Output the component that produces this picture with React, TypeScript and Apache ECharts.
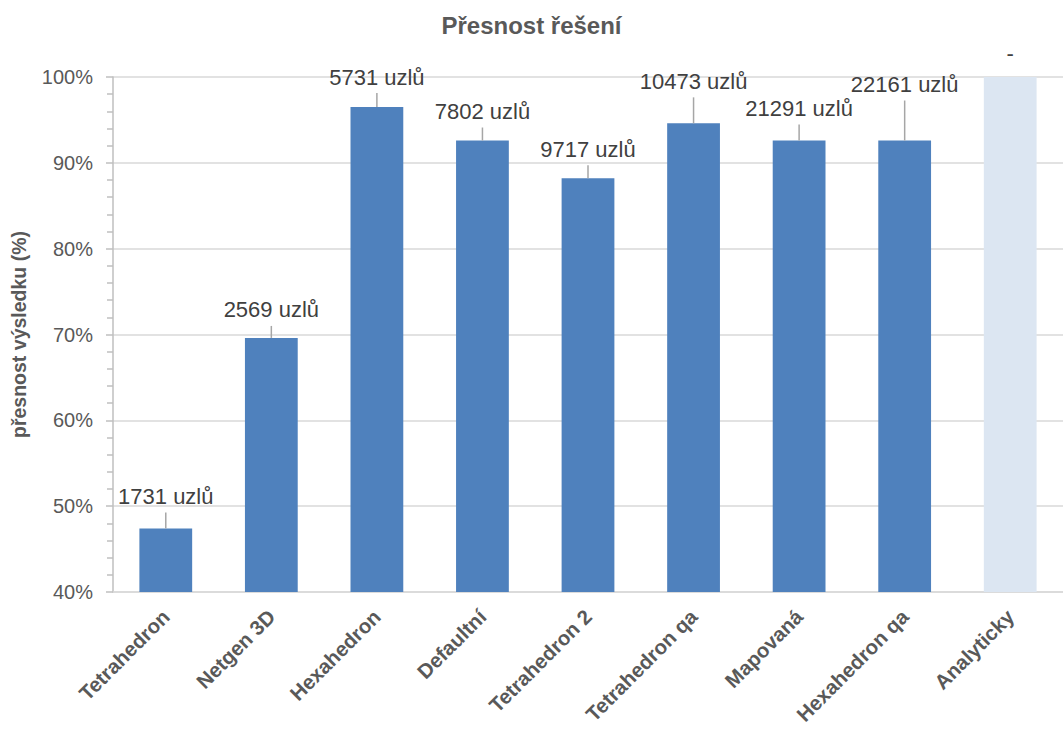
import React, { useEffect, useRef } from "react";
import * as echarts from "echarts";

const categories = [
  "Tetrahedron",
  "Netgen 3D",
  "Hexahedron",
  "Defaultní",
  "Tetrahedron 2",
  "Tetrahedron qa",
  "Mapovaná",
  "Hexahedron qa",
  "Analyticky",
];
const accuracy = [47.4, 69.6, 96.5, 92.6, 88.2, 94.6, 92.6, 92.6, 100];
const nodeLabels = [
  "1731 uzlů",
  "2569 uzlů",
  "5731 uzlů",
  "7802 uzlů",
  "9717 uzlů",
  "10473 uzlů",
  "21291 uzlů",
  "22161 uzlů",
  "-",
];
const yTicks = { min: 40, max: 100, interval: 10 };

// label leader line lengths in pixels (style only)
const leaderLen = [16, 12, 14, 13, 13, 26, 16, 40, 0];

const FONT = "'Liberation Sans', Arial, sans-serif";

export default function App() {
  const ref = useRef<HTMLDivElement>(null);
  useEffect(() => {
    document.body.style.margin = "0";
    const chart = echarts.init(ref.current!, undefined, { renderer: "svg" });
    const option: any = {
      animation: false,
      backgroundColor: "#ffffff",
      textStyle: { fontFamily: FONT },
      title: {
        text: "Přesnost řešení",
        left: "center",
        top: 8,
        textStyle: { fontSize: 24, fontWeight: "bold", color: "#595959", fontFamily: FONT },
      },
      grid: { left: 113, top: 77, width: 966, height: 515 },
      xAxis: {
        type: "category",
        data: categories,
        axisLine: { show: true, lineStyle: { color: "#d9d9d9", width: 1.5 } },
        axisTick: { show: false },
        axisLabel: {
          rotate: 45,
          interval: 0,
          margin: 21,
          fontSize: 20.5,
          fontWeight: "bold",
          color: "#595959",
          fontFamily: FONT,
        },
        splitLine: { show: false },
      },
      yAxis: {
        type: "value",
        min: yTicks.min,
        max: yTicks.max,
        interval: yTicks.interval,
        name: "přesnost výsledku (%)",
        nameLocation: "middle",
        nameGap: 84,
        nameTextStyle: { fontSize: 19.5, fontWeight: "bold", color: "#595959", fontFamily: FONT },
        axisLine: { show: true, lineStyle: { color: "#bfbfbf", width: 1.5 } },
        axisTick: { show: true, inside: false, length: 7, lineStyle: { color: "#bfbfbf", width: 1.5 } },
        minorTick: { show: true, splitNumber: 5, length: 6, lineStyle: { color: "#bfbfbf", width: 1.5 } },
        axisLabel: {
          formatter: "{value}%",
          margin: 20,
          fontSize: 20,
          color: "#595959",
          fontFamily: FONT,
        },
        splitLine: { show: true, lineStyle: { color: "#d9d9d9", width: 1.5 } },
      },
      series: [
        {
          type: "bar",
          barWidth: "50%",
          data: accuracy.map((v, i) => ({
            value: v,
            itemStyle: { color: i === accuracy.length - 1 ? "#dce6f2" : "#4f81bd" },
          })),
          z: 2,
        },
        {
          type: "custom",
          z: 5,
          clip: false,
          data: accuracy.map((v, i) => [i, v]),
          renderItem: (params: any, api: any) => {
            const i = params.dataIndex;
            const p = api.coord([api.value(0), api.value(1)]);
            const len = leaderLen[i];
            const textY = p[1] - len - 16 - (len === 0 ? 8 : 0);
            const children: any[] = [];
            if (len > 0) {
              children.push({
                type: "line",
                shape: { x1: p[0], y1: p[1], x2: p[0], y2: p[1] - len },
                style: { stroke: "#a6a6a6", lineWidth: 1.5 },
              });
            }
            children.push({
              type: "text",
              x: p[0],
              y: textY,
              style: {
                text: nodeLabels[i],
                fontSize: 22,
                fontFamily: FONT,
                fill: "#404040",
                align: "center",
                verticalAlign: "middle",
              },
            });
            return { type: "group", children };
          },
        },
      ],
    };
    chart.setOption(option);
    return () => chart.dispose();
  }, []);
  return <div ref={ref} style={{ width: 1063, height: 729 }} />;
}
